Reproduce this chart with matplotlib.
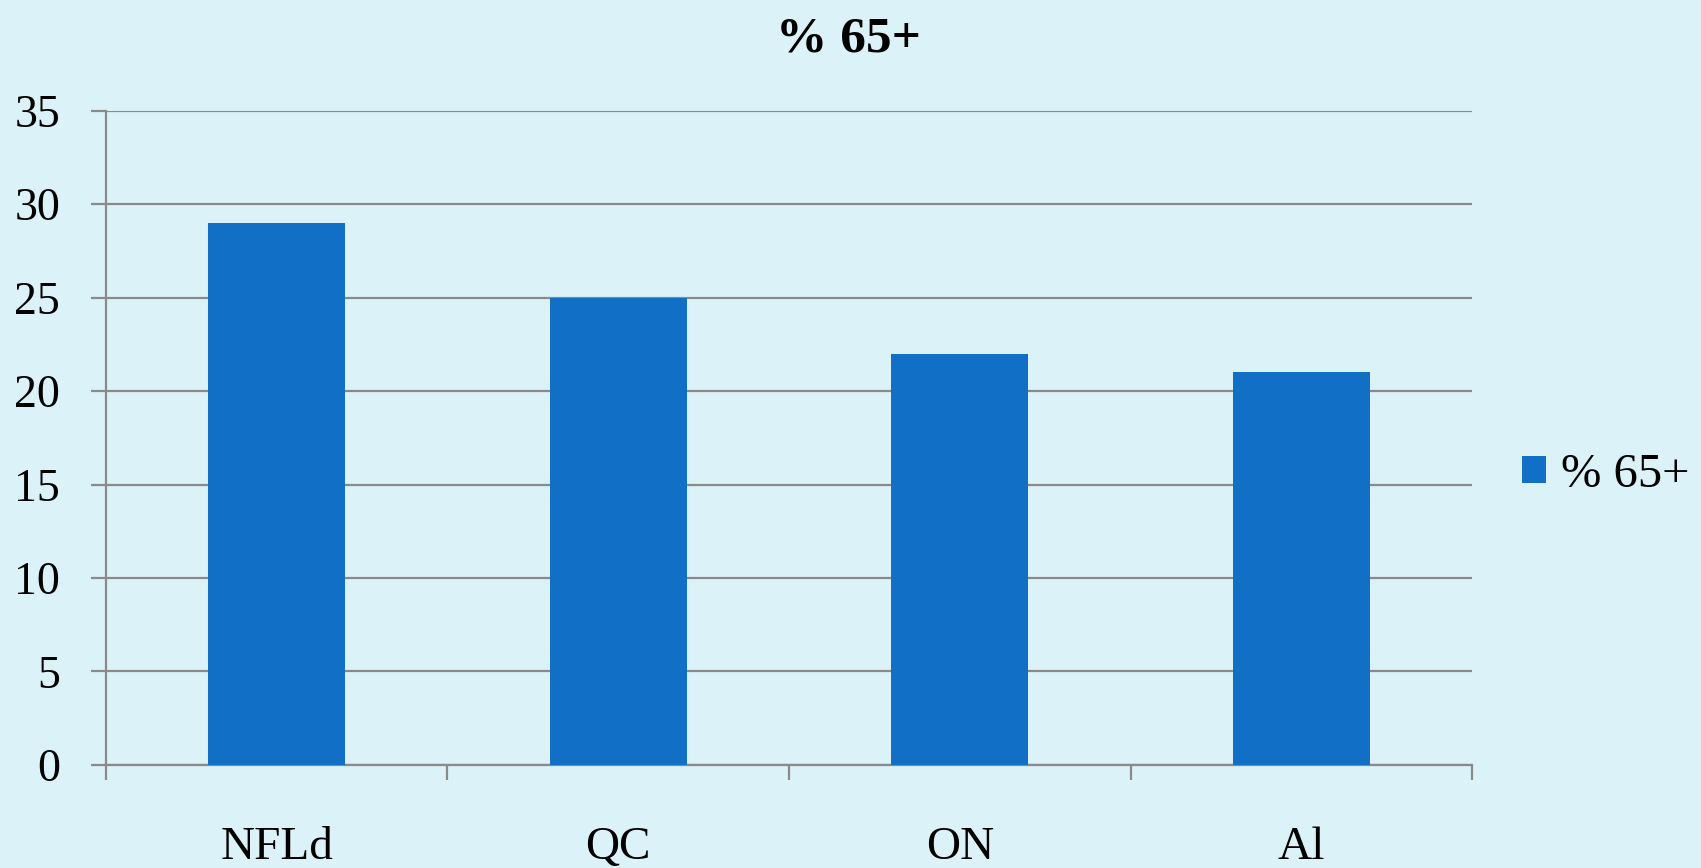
import numpy as np
import matplotlib
matplotlib.use('Agg')
import matplotlib.pyplot as plt
from matplotlib.patches import Patch

# share of population aged 65 and over, by province
provinces = ['NFLd', 'QC', 'ON', 'Al']
pct_65 = [29, 25, 22, 21]
series_name = '% 65+'

bg = '#DBF3F8'
bar_color = '#1170C6'
line_color = '#8A8A8A'

plt.rcParams['font.family'] = ['Liberation Serif', 'DejaVu Serif']

fig = plt.figure(figsize=(17.01, 8.68), dpi=100, facecolor=bg)
ax = fig.add_axes([0.0623, 0.1187, 0.8031, 0.7538], facecolor=bg)

x = np.arange(len(provinces)) + 0.5
ax.bar(x, pct_65, width=0.40, color=bar_color, zorder=3)

ax.set_xlim(0, len(provinces))
ax.set_ylim(0, 35)

# y axis: gridlines every 5
ax.set_yticks(np.arange(0, 36, 5))
ax.yaxis.grid(True, color=line_color, linewidth=1.6, zorder=0)
ax.tick_params(axis='y', direction='out', length=11, width=1.6, color=line_color,
               labelsize=33, pad=22)

# x axis: tick marks between categories, labels at centres
ax.set_xticks(np.arange(0, len(provinces) + 1))
ax.set_xticklabels([])
ax.set_xticks(x, minor=True)
ax.set_xticklabels(provinces, minor=True)
ax.tick_params(axis='x', which='major', direction='out', length=11, width=1.6,
               color=line_color)
ax.tick_params(axis='x', which='minor', length=0, labelsize=34, pad=44)

for side in ['top', 'right']:
    ax.spines[side].set_visible(False)
for side in ['left', 'bottom']:
    ax.spines[side].set_color(line_color)
    ax.spines[side].set_linewidth(1.6)

fig.text(0.499, 0.955, series_name, ha='center', va='center', fontsize=37,
         fontweight='bold')

handles = [Patch(facecolor=bar_color, edgecolor='none')]
fig.legend(handles, [series_name], loc='center left', bbox_to_anchor=(0.8805, 0.453),
           frameon=False, fontsize=35, handlelength=0.5, handleheight=0.5,
           handletextpad=0.3, borderpad=0)

fig.savefig('out.png', dpi=100, facecolor=bg)
